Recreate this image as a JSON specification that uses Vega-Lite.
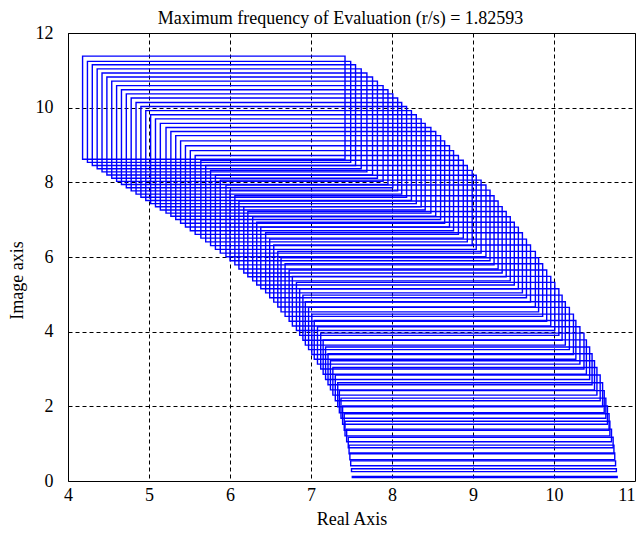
{
  "$schema": "https://vega.github.io/schema/vega-lite/v6.json",
  "width": 567,
  "height": 448,
  "autosize": {"type": "none"},
  "padding": {"left": 68, "top": 33, "right": 2, "bottom": 54},
  "background": "white",
  "title": {"text": "Maximum frequency of Evaluation (r/s) = 1.82593", "font": "Liberation Serif", "fontSize": 18, "fontWeight": "normal", "color": "black", "offset": -4, "dx": -11},
  "config": {
    "view": {"stroke": "black", "strokeWidth": 1},
    "axis": {
      "labelFont": "Liberation Serif", "labelFontSize": 18, "labelColor": "black",
      "titleFont": "Liberation Serif", "titleFontSize": 18, "titleFontWeight": "normal", "titleColor": "black",
      "ticks": false, "domain": false, "grid": true, "gridColor": "black", "gridDash": [4, 3], "gridOpacity": 1, "gridWidth": 1,
      "labelFlush": false, "zindex": 1
    }
  },
  "data": {"values": [
    {"re_lo": 4.18, "re_hi": 7.42, "im_lo": 8.62, "im_hi": 11.38},
    {"re_lo": 4.24, "re_hi": 7.49, "im_lo": 8.535, "im_hi": 11.24},
    {"re_lo": 4.30, "re_hi": 7.55, "im_lo": 8.45, "im_hi": 11.15},
    {"re_lo": 4.36, "re_hi": 7.62, "im_lo": 8.365, "im_hi": 11.04},
    {"re_lo": 4.42, "re_hi": 7.69, "im_lo": 8.28, "im_hi": 10.93},
    {"re_lo": 4.48, "re_hi": 7.76, "im_lo": 8.195, "im_hi": 10.82},
    {"re_lo": 4.54, "re_hi": 7.82, "im_lo": 8.11, "im_hi": 10.71},
    {"re_lo": 4.60, "re_hi": 7.89, "im_lo": 8.025, "im_hi": 10.59},
    {"re_lo": 4.66, "re_hi": 7.95, "im_lo": 7.94, "im_hi": 10.48},
    {"re_lo": 4.72, "re_hi": 8.01, "im_lo": 7.855, "im_hi": 10.37},
    {"re_lo": 4.78, "re_hi": 8.07, "im_lo": 7.77, "im_hi": 10.26},
    {"re_lo": 4.84, "re_hi": 8.12, "im_lo": 7.685, "im_hi": 10.14},
    {"re_lo": 4.90, "re_hi": 8.18, "im_lo": 7.60, "im_hi": 10.03},
    {"re_lo": 4.96, "re_hi": 8.24, "im_lo": 7.515, "im_hi": 9.92},
    {"re_lo": 5.02, "re_hi": 8.30, "im_lo": 7.43, "im_hi": 9.81},
    {"re_lo": 5.08, "re_hi": 8.36, "im_lo": 7.345, "im_hi": 9.70},
    {"re_lo": 5.14, "re_hi": 8.41, "im_lo": 7.26, "im_hi": 9.58},
    {"re_lo": 5.21, "re_hi": 8.48, "im_lo": 7.175, "im_hi": 9.47},
    {"re_lo": 5.27, "re_hi": 8.54, "im_lo": 7.09, "im_hi": 9.36},
    {"re_lo": 5.33, "re_hi": 8.60, "im_lo": 7.005, "im_hi": 9.25},
    {"re_lo": 5.39, "re_hi": 8.65, "im_lo": 6.905, "im_hi": 9.11},
    {"re_lo": 5.45, "re_hi": 8.71, "im_lo": 6.805, "im_hi": 8.98},
    {"re_lo": 5.51, "re_hi": 8.76, "im_lo": 6.705, "im_hi": 8.85},
    {"re_lo": 5.57, "re_hi": 8.82, "im_lo": 6.605, "im_hi": 8.72},
    {"re_lo": 5.64, "re_hi": 8.88, "im_lo": 6.505, "im_hi": 8.59},
    {"re_lo": 5.70, "re_hi": 8.93, "im_lo": 6.405, "im_hi": 8.45},
    {"re_lo": 5.76, "re_hi": 8.99, "im_lo": 6.305, "im_hi": 8.32},
    {"re_lo": 5.82, "re_hi": 9.04, "im_lo": 6.205, "im_hi": 8.19},
    {"re_lo": 5.88, "re_hi": 9.10, "im_lo": 6.105, "im_hi": 8.06},
    {"re_lo": 5.95, "re_hi": 9.16, "im_lo": 6.005, "im_hi": 7.93},
    {"re_lo": 6.00, "re_hi": 9.21, "im_lo": 5.90, "im_hi": 7.79},
    {"re_lo": 6.06, "re_hi": 9.26, "im_lo": 5.79, "im_hi": 7.64},
    {"re_lo": 6.11, "re_hi": 9.31, "im_lo": 5.68, "im_hi": 7.50},
    {"re_lo": 6.17, "re_hi": 9.36, "im_lo": 5.57, "im_hi": 7.35},
    {"re_lo": 6.22, "re_hi": 9.41, "im_lo": 5.47, "im_hi": 7.22},
    {"re_lo": 6.28, "re_hi": 9.46, "im_lo": 5.36, "im_hi": 7.08},
    {"re_lo": 6.33, "re_hi": 9.51, "im_lo": 5.25, "im_hi": 6.93},
    {"re_lo": 6.38, "re_hi": 9.56, "im_lo": 5.15, "im_hi": 6.80},
    {"re_lo": 6.44, "re_hi": 9.61, "im_lo": 5.04, "im_hi": 6.65},
    {"re_lo": 6.49, "re_hi": 9.66, "im_lo": 4.91, "im_hi": 6.48},
    {"re_lo": 6.54, "re_hi": 9.71, "im_lo": 4.79, "im_hi": 6.32},
    {"re_lo": 6.59, "re_hi": 9.77, "im_lo": 4.66, "im_hi": 6.15},
    {"re_lo": 6.63, "re_hi": 9.81, "im_lo": 4.53, "im_hi": 5.98},
    {"re_lo": 6.68, "re_hi": 9.86, "im_lo": 4.41, "im_hi": 5.82},
    {"re_lo": 6.73, "re_hi": 9.91, "im_lo": 4.28, "im_hi": 5.65},
    {"re_lo": 6.77, "re_hi": 9.96, "im_lo": 4.15, "im_hi": 5.48},
    {"re_lo": 6.82, "re_hi": 10.01, "im_lo": 4.03, "im_hi": 5.32},
    {"re_lo": 6.86, "re_hi": 10.06, "im_lo": 3.90, "im_hi": 5.15},
    {"re_lo": 6.90, "re_hi": 10.10, "im_lo": 3.77, "im_hi": 4.98},
    {"re_lo": 6.93, "re_hi": 10.14, "im_lo": 3.64, "im_hi": 4.80},
    {"re_lo": 6.97, "re_hi": 10.19, "im_lo": 3.52, "im_hi": 4.65},
    {"re_lo": 7.01, "re_hi": 10.24, "im_lo": 3.39, "im_hi": 4.47},
    {"re_lo": 7.04, "re_hi": 10.27, "im_lo": 3.26, "im_hi": 4.30},
    {"re_lo": 7.08, "re_hi": 10.32, "im_lo": 3.13, "im_hi": 4.13},
    {"re_lo": 7.12, "re_hi": 10.37, "im_lo": 3.00, "im_hi": 3.96},
    {"re_lo": 7.15, "re_hi": 10.40, "im_lo": 2.86, "im_hi": 3.78},
    {"re_lo": 7.18, "re_hi": 10.44, "im_lo": 2.72, "im_hi": 3.59},
    {"re_lo": 7.21, "re_hi": 10.47, "im_lo": 2.58, "im_hi": 3.41},
    {"re_lo": 7.24, "re_hi": 10.50, "im_lo": 2.44, "im_hi": 3.22},
    {"re_lo": 7.27, "re_hi": 10.53, "im_lo": 2.30, "im_hi": 3.04},
    {"re_lo": 7.30, "re_hi": 10.57, "im_lo": 2.15, "im_hi": 2.84},
    {"re_lo": 7.33, "re_hi": 10.60, "im_lo": 1.99, "im_hi": 2.63},
    {"re_lo": 7.35, "re_hi": 10.62, "im_lo": 1.83, "im_hi": 2.42},
    {"re_lo": 7.37, "re_hi": 10.64, "im_lo": 1.68, "im_hi": 2.22},
    {"re_lo": 7.39, "re_hi": 10.66, "im_lo": 1.52, "im_hi": 2.01},
    {"re_lo": 7.41, "re_hi": 10.68, "im_lo": 1.36, "im_hi": 1.80},
    {"re_lo": 7.42, "re_hi": 10.69, "im_lo": 1.21, "im_hi": 1.60},
    {"re_lo": 7.44, "re_hi": 10.71, "im_lo": 1.05, "im_hi": 1.39},
    {"re_lo": 7.46, "re_hi": 10.73, "im_lo": 0.89, "im_hi": 1.17},
    {"re_lo": 7.47, "re_hi": 10.74, "im_lo": 0.73, "im_hi": 0.96},
    {"re_lo": 7.48, "re_hi": 10.75, "im_lo": 0.57, "im_hi": 0.75},
    {"re_lo": 7.49, "re_hi": 10.76, "im_lo": 0.41, "im_hi": 0.54},
    {"re_lo": 7.50, "re_hi": 10.77, "im_lo": 0.25, "im_hi": 0.33},
    {"re_lo": 7.51, "re_hi": 10.78, "im_lo": 0.09, "im_hi": 0.12}
  ]},
  "mark": {"type": "rect", "filled": false, "stroke": "#0000ff", "strokeWidth": 1.4, "fill": null},
  "encoding": {
    "x": {"field": "re_lo", "type": "quantitative",
      "scale": {"domain": [4, 11], "nice": false, "zero": false},
      "axis": {"title": "Real Axis", "values": [4, 5, 6, 7, 8, 9, 10, 11], "labelPadding": 5, "titlePadding": 6,
        "labelAlign": {"condition": {"test": "datum.value == 11", "value": "right"}, "value": "center"}}},
    "x2": {"field": "re_hi"},
    "y": {"field": "im_lo", "type": "quantitative",
      "scale": {"domain": [0, 12], "nice": false, "zero": false},
      "axis": {"title": "Image axis", "values": [0, 2, 4, 6, 8, 10, 12], "labelPadding": 15, "titleX": -42, "titleY": 247, "titleBaseline": "bottom"}},
    "y2": {"field": "im_hi"}
  }
}
